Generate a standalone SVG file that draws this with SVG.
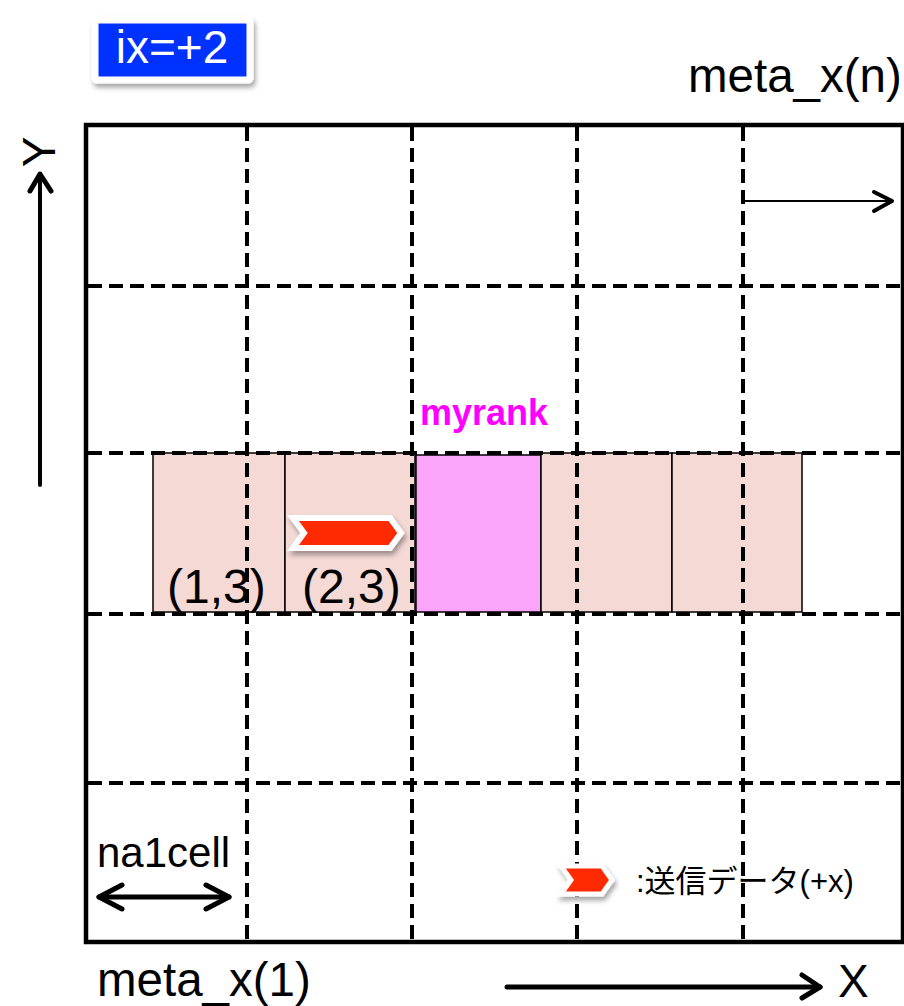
<svg xmlns="http://www.w3.org/2000/svg" width="904" height="1006" viewBox="0 0 904 1006">
<style>
.t{font-family:"Liberation Sans",Arial,sans-serif;fill:#000}
.grid{stroke:#000;stroke-width:4;stroke-dasharray:14 7;fill:none}
.cell{fill:#F4D9D5;stroke:#000;stroke-width:1.5}
.ar{stroke:#000;fill:none;stroke-linecap:round;stroke-linejoin:round}
.chev{fill:#FF2A00;stroke:#fff;stroke-width:6;stroke-linejoin:miter}
</style>
<defs>
<filter id="sh" x="-20%" y="-30%" width="140%" height="170%">
<feDropShadow dx="2" dy="4" stdDeviation="2.5" flood-color="#000" flood-opacity="0.35"/>
</filter>
</defs>
<rect width="904" height="1006" fill="#fff"/>
<g id="label-ix">
<rect x="95" y="20" width="155" height="60" rx="2" fill="#0433FF" stroke="#fff" stroke-width="7" filter="url(#sh)"/>
<text class="t" x="172" y="63" font-size="46" text-anchor="middle" style="fill:#fff">ix=+2</text>
</g>
<g id="cells">
<rect class="cell" x="153" y="453" width="132" height="159"/>
<rect class="cell" x="285" y="453" width="130" height="159"/>
<rect x="416" y="455" width="125" height="157" fill="#FAA5FA" stroke="#000" stroke-width="1.5"/>
<rect class="cell" x="541" y="453" width="131" height="159"/>
<rect class="cell" x="672" y="453" width="130" height="159"/>
</g>
<g id="grid">
<rect x="86" y="125" width="817" height="817" fill="none" stroke="#000" stroke-width="4.5"/>
<line class="grid" x1="247" y1="127" x2="247" y2="940"/>
<line class="grid" x1="412" y1="127" x2="412" y2="940"/>
<line class="grid" x1="577" y1="127" x2="577" y2="940"/>
<line class="grid" x1="743" y1="127" x2="743" y2="940"/>
<line class="grid" x1="88" y1="286" x2="903" y2="286"/>
<line class="grid" x1="88" y1="453" x2="903" y2="453"/>
<line class="grid" x1="88" y1="614" x2="903" y2="614"/>
<line class="grid" x1="88" y1="783" x2="903" y2="783"/>
</g>
<g id="labels">
<text class="t" x="688" y="92" font-size="47.5">meta_x(n)</text>
<text class="t" x="97" y="996" font-size="47.5">meta_x(1)</text>
<text class="t" x="838" y="997" font-size="46">X</text>
<text class="t" transform="translate(55,152) rotate(-90)" font-size="46" text-anchor="middle">Y</text>
<text class="t" x="420" y="425" font-size="36" font-weight="bold" style="fill:#FF00FF">myrank</text>
<text class="t" x="167" y="603" font-size="48">(1,3)</text>
<text class="t" x="302" y="603" font-size="48">(2,3)</text>
<text class="t" x="97" y="867" font-size="42">na1cell</text>
<text class="t" x="636" y="892" font-size="31" style='font-family:"Liberation Sans","Noto Sans CJK JP",sans-serif'>:送信データ(+x)</text>
</g>
<g id="chevrons">
<polygon class="chev" points="293,518 390,518 401,533 390,548 293,548 304,533" filter="url(#sh)"/>
<polygon class="chev" points="561,866 602,866 612,880 602,894 561,894 571,880" filter="url(#sh)" style="stroke-width:5"/>
</g>
<g id="connectors">
<line class="ar" x1="40" y1="485" x2="40" y2="174" stroke-width="4"/>
<polyline class="ar" points="30,191 40,174 51,191" stroke-width="5"/>
<line class="ar" x1="507" y1="987" x2="820" y2="987" stroke-width="5"/>
<polyline class="ar" points="802,975 820,987 802,998" stroke-width="5"/>
<line class="ar" x1="745" y1="201" x2="892" y2="201" stroke-width="2"/>
<polyline class="ar" points="874,192 892,201 874,211" stroke-width="4"/>
<line class="ar" x1="99" y1="897" x2="229" y2="897" stroke-width="5"/>
<polyline class="ar" points="122,885 99,897 122,909" stroke-width="5"/>
<polyline class="ar" points="206,885 229,897 206,909" stroke-width="5"/>
</g>
</svg>
